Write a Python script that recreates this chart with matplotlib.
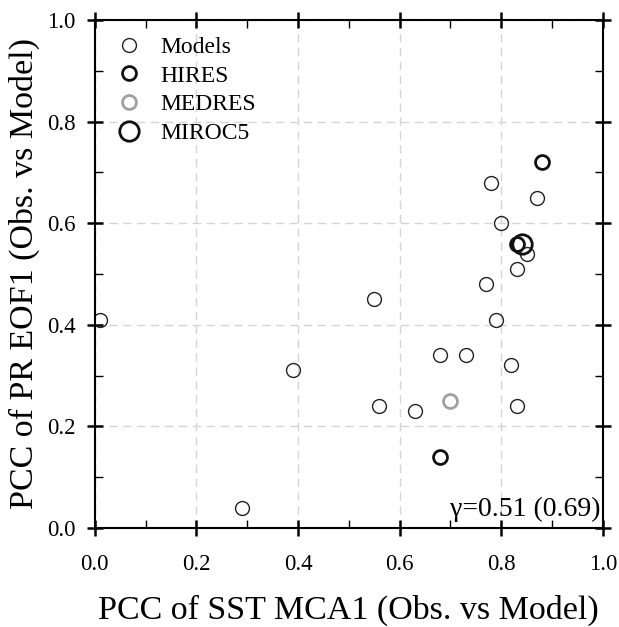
import numpy as np
import matplotlib
matplotlib.use("Agg")
import matplotlib.pyplot as plt
from matplotlib.ticker import MultipleLocator

plt.rcParams['font.family'] = ['Liberation Serif', 'DejaVu Serif']

# model points (SST MCA1 PCC, PR EOF1 PCC)
models_x = [0.01, 0.29, 0.39, 0.55, 0.56, 0.63, 0.68, 0.73, 0.82, 0.83, 0.79, 0.77, 0.83, 0.85, 0.80, 0.87, 0.78]
models_y = [0.41, 0.04, 0.31, 0.45, 0.24, 0.23, 0.34, 0.34, 0.32, 0.24, 0.41, 0.48, 0.51, 0.54, 0.60, 0.65, 0.68]
hires_x = [0.88, 0.68, 0.83]
hires_y = [0.72, 0.14, 0.56]
medres_x = [0.70]
medres_y = [0.25]
miroc5_x = [0.84]
miroc5_y = [0.56]
corr_text = "γ=0.51 (0.69)"

fig = plt.figure(figsize=(6.19, 6.27), dpi=100)
ax = fig.add_axes([0.153, 0.158, 0.821, 0.810])

ax.plot(models_x, models_y, 'o', mfc='none', mec='#222222', ms=10, mew=1.0, label='Models')
ax.plot(hires_x, hires_y, 'o', mfc='none', mec='#111111', ms=10, mew=2.0, label='HIRES')
ax.plot(medres_x, medres_y, 'o', mfc='none', mec='#a0a0a0', ms=10, mew=2.0, label='MEDRES')
ax.plot(miroc5_x, miroc5_y, 'o', mfc='none', mec='#111111', ms=14, mew=2.0, label='MIROC5')

ax.set_xlim(0, 1)
ax.set_ylim(0, 1)
ax.xaxis.set_major_locator(MultipleLocator(0.2))
ax.yaxis.set_major_locator(MultipleLocator(0.2))
ax.xaxis.set_minor_locator(MultipleLocator(0.1))
ax.yaxis.set_minor_locator(MultipleLocator(0.1))
ax.xaxis.set_major_formatter(plt.FormatStrFormatter('%.1f'))
ax.yaxis.set_major_formatter(plt.FormatStrFormatter('%.1f'))
ax.tick_params(which='major', direction='inout', length=12, width=1.8, labelsize=16.5,
               top=True, right=True)
ax.tick_params(axis='x', which='major', pad=13)
ax.tick_params(axis='y', which='major', pad=8)
ax.tick_params(which='minor', direction='in', length=6, width=1.0, top=True, right=True)
for s in ax.spines.values():
    s.set_linewidth(1.5)
ax.grid(True, which='major', ls=(0, (6, 4)), color='#d5d5d5', lw=1.0)
ax.set_axisbelow(True)

ax.set_xlabel('PCC of SST MCA1 (Obs. vs Model)', fontsize=24.5, labelpad=14)
ax.set_ylabel('PCC of PR EOF1 (Obs. vs Model)', fontsize=24.5)
ax.yaxis.set_label_coords(-0.108, 0.5)

ax.legend(loc='upper left', frameon=False, fontsize=17, handletextpad=0.6,
          labelspacing=0.3, borderaxespad=0.3, handlelength=1.5)
ax.text(0.995, 0.012, corr_text, transform=ax.transAxes, ha='right', va='bottom', fontsize=20)

fig.savefig('out.png', dpi=100)
